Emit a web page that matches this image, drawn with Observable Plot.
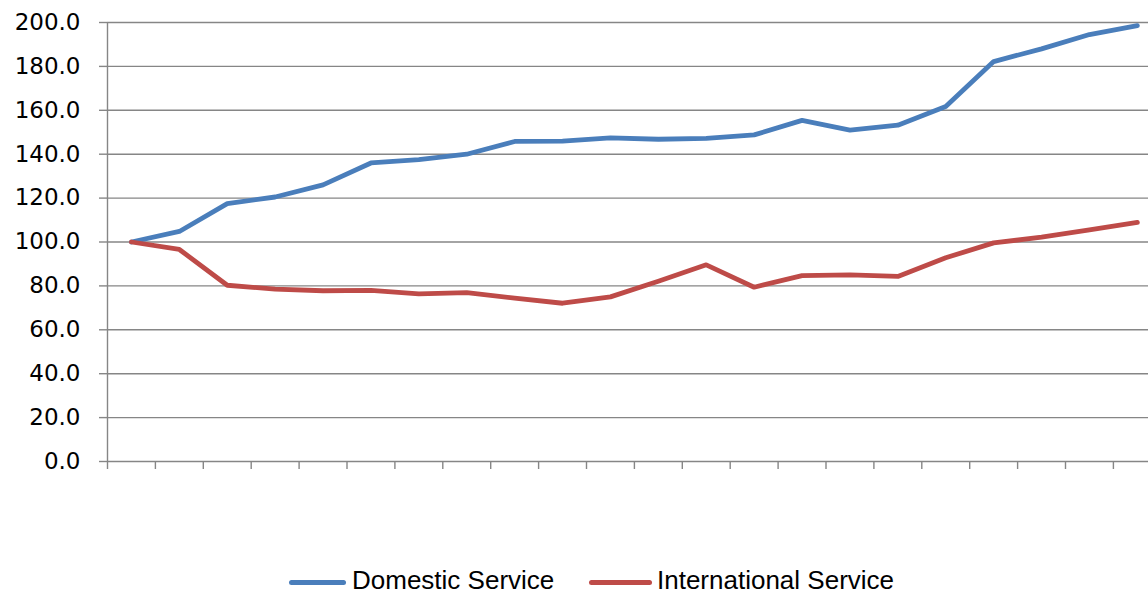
<!DOCTYPE html>
<html>
<head>
<meta charset="utf-8">
<script src="https://cdn.jsdelivr.net/npm/d3@7"></script>
<script src="https://cdn.jsdelivr.net/npm/@observablehq/plot@0.6"></script>
<style>
  html, body { margin: 0; padding: 0; background: #fff; overflow: hidden; }
  #wrap { position: relative; width: 1148px; height: 595px; }
  #legend { position: absolute; top: 0; left: 0; width: 1148px; height: 595px; pointer-events: none;
    font-family: "Liberation Sans", Arial, sans-serif; font-size: 26px; line-height: 26px; color: #000; }
  .sw { position: absolute; height: 5px; border-radius: 3px; top: 580px; }
  .lt { position: absolute; top: 567px; white-space: nowrap; }
</style>
</head>
<body>
<div id="wrap"><div id="chart"></div><div id="legend"></div></div>
<script>
const periods = d3.range(22); // 22 unlabeled categories
const domestic = [100, 104.8, 117.5, 120.5, 126, 136, 137.5, 140, 145.8, 146, 147.4, 146.8, 147.2, 148.8, 155.4, 151, 153.2, 161.7, 182.2, 188, 194.5, 198.6];
const international = [100, 96.6, 80.3, 78.5, 77.8, 78, 76.4, 76.9, 74.4, 72.1, 75, 82.1, 89.6, 79.4, 84.7, 85, 84.3, 92.8, 99.6, 102.2, 105.5, 108.9];
const seriesNames = ["Domestic Service", "International Service"];
const seriesColors = ["#4A7EBB", "#BE4B48"];
const yTicks = d3.range(0, 201, 20);

const data = [];
periods.forEach((p, i) => {
  data.push({p, v: domestic[i], s: seriesNames[0]});
  data.push({p, v: international[i], s: seriesNames[1]});
});

const grid = "#868686";
const chart = Plot.plot({
  width: 1148,
  height: 475,
  marginTop: 22,
  marginBottom: 14,
  marginLeft: 107,
  marginRight: 0,
  style: {fontFamily: "DejaVu Sans, sans-serif", fontSize: "23px", color: "#000", background: "#fff", overflow: "hidden"},
  x: {domain: [-0.5, periods.length - 0.5], range: [107, 107 + 47.9 * periods.length]},
  y: {domain: [0, 200]},
  color: {domain: seriesNames, range: seriesColors},
  marks: [
    Plot.gridY(yTicks, {stroke: grid, strokeOpacity: 1, strokeWidth: 1.4}),
    Plot.axisY(yTicks, {tickSize: 8, tickPadding: 19, stroke: grid, strokeWidth: 1.4, tickFormat: d => d.toFixed(1), label: null, fill: "#000"}),
    Plot.ruleX([-0.5], {y1: 0, y2: 200, stroke: grid, strokeWidth: 1.4}),
    Plot.axisX(periods.map(p => p - 0.5), {tickSize: 8, stroke: grid, strokeWidth: 1.4, tickFormat: () => "", label: null}),
    Plot.lineY(data, {x: "p", y: "v", z: "s", stroke: "s", strokeWidth: 4.8, strokeLinejoin: "round", strokeLinecap: "round"})
  ]
});
document.getElementById("chart").appendChild(chart);

const legend = document.getElementById("legend");
const legendPos = [{sw: 289, w: 57, t: 352}, {sw: 589, w: 63, t: 657}];
seriesNames.forEach((n, i) => {
  const sw = document.createElement("div");
  sw.className = "sw";
  sw.style.left = legendPos[i].sw + "px";
  sw.style.width = legendPos[i].w + "px";
  sw.style.background = seriesColors[i];
  const t = document.createElement("span");
  t.className = "lt";
  t.style.left = legendPos[i].t + "px";
  t.textContent = n;
  legend.appendChild(sw);
  legend.appendChild(t);
});
</script>
</body>
</html>
